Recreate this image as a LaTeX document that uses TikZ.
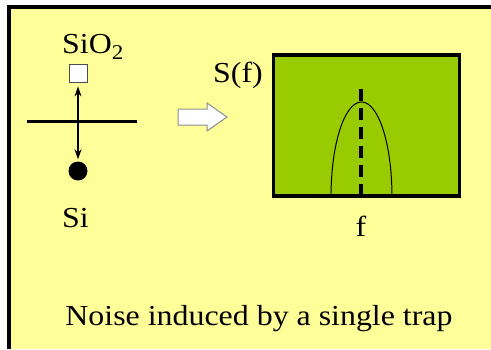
\documentclass[tikz,border=0pt]{standalone}
\usepackage{fontspec}
\newfontfamily\slidefont{Liberation Serif}
\usepackage{tikz}
\usetikzlibrary{arrows.meta}
\usetikzlibrary{positioning}

\definecolor{slideyellow}{RGB}{255,255,153}
\definecolor{psdgreen}{RGB}{153,204,0}

\begin{document}
\begin{tikzpicture}[x={(1pt,0)}, y={(0,-1pt)},
    txt/.style={inner sep=0pt, xscale=1.1, font=\slidefont\fontsize{29}{34}\selectfont},
    trapbox/.style={rectangle, draw=black!70, fill=white, line width=0.8pt, minimum size=18pt, inner sep=0pt},
    electron/.style={circle, fill=black, minimum size=19pt, inner sep=0pt},
    blockarrow/.style={draw=black!45, fill=white, line width=1pt, line join=miter},
    psdbox/.style={rectangle, draw=black, line width=3.5pt, fill=psdgreen, minimum width=186pt, minimum height=141pt, inner sep=0pt},
    >={Stealth[length=10pt, width=7pt]}]
    \useasboundingbox (0,0) rectangle (491,349);
    \fill[white] (0,0) rectangle (491,349);
    \fill[slideyellow] (9,7) rectangle (491,349);
    \draw[line width=4pt] (9,349) -- (9,7) -- (491,7);

    % trap in the oxide, interface, electron in the channel
    \node [txt, anchor=base west] (oxide) at (62,53) {SiO\raisebox{-0.22em}{\fontsize{21}{21}\selectfont 2}};
    \node [trapbox] (trap) at (78,73) {};
    \coordinate (ifleft) at (27,121);
    \coordinate (ifright) at (137,121);
    \draw [line width=3pt] (ifleft) -- (ifright);
    \node [electron] (elec) at (78,171) {};
    \node [txt, anchor=base west] (silicon) at (62,227) {Si};
    \draw [<->, line width=1.2pt, shorten <=4pt, shorten >=2pt] (trap.south) -- (elec.north);

    % block arrow
    \draw [blockarrow] (178,109) -- (207,109) -- (207,103) -- (227,117) -- (207,131) -- (207,125) -- (178,125) -- cycle;

    % spectrum
    \node [psdbox] (psd) at (366.5,125.5) {};
    \node [txt, anchor=base west] (sflabel) at (213,82) {S(f)};
    \coordinate (fpos) at (361,196);
    \coordinate (ftop) at (361,83);
    \draw [line width=3.5pt, dash pattern=on 12pt off 7pt] (fpos) -- (ftop);
    \draw [line width=1pt] (331,197) .. controls (331,144) and (344.5,102) .. (361.5,102)
        .. controls (378.5,102) and (392,144) .. (392,197);
    \node [txt, anchor=base] (flabel) at (361,236) {f};

    \node [txt, anchor=base] (caption) at (259,325) {Noise induced by a single trap};
\end{tikzpicture}
\end{document}
